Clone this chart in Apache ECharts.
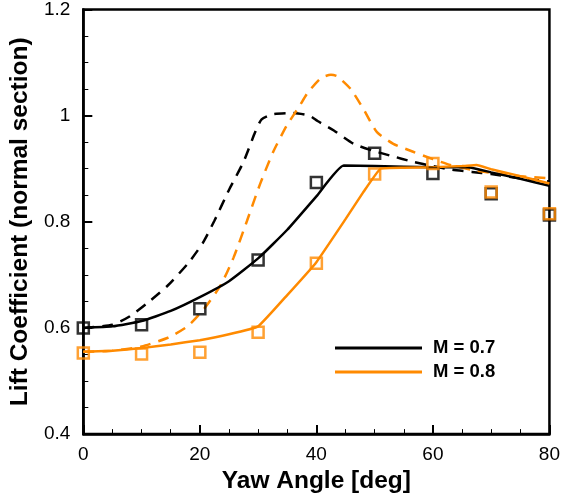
<!DOCTYPE html>
<html><head><meta charset="utf-8">
<script src="https://cdn.jsdelivr.net/npm/echarts@6/dist/echarts.min.js"></script>
<style>html,body{margin:0;padding:0;background:#fff}#c{width:563px;height:499px}</style>
</head><body><div id="c"></div>
<script>
var xTicks = [0, 20, 40, 60, 80];
var yTicks = [0.4, 0.6, 0.8, 1.0, 1.2];
var markerX = [0, 10, 20, 30, 40, 50, 60, 70, 80];
var m07Markers = [0.600, 0.606, 0.636, 0.728, 0.874, 0.929, 0.891, 0.853, 0.813];
var m08Markers = [0.553, 0.551, 0.554, 0.592, 0.722, 0.890, 0.910, 0.856, 0.815];
var m07Solid = [[0,0.600],[5,0.603],[10,0.613],[15,0.632],[20,0.658],[25,0.688],[30,0.731],[35,0.785],[40,0.848],[44.7,0.906],[50,0.905],[60,0.903],[66,0.903],[70,0.893],[75,0.881],[80,0.868]];
var m07Dash = [[0,0.600],[5,0.606],[8,0.622],[11,0.647],[14.5,0.680],[18,0.722],[20.5,0.760],[22.5,0.802],[25,0.860],[27.5,0.913],[29.5,0.969],[30.6,0.993],[32.6,1.003],[36,1.005],[38.8,1.000],[40.2,0.990],[43,0.972],[46.4,0.947],[50,0.933],[52.6,0.925],[56.6,0.913],[60,0.905],[63.3,0.898],[66.7,0.894],[70,0.890],[75,0.882],[80,0.876]];
var m08Solid = [[0,0.555],[5,0.557],[10,0.562],[15,0.569],[20,0.577],[25,0.588],[30,0.603],[35,0.662],[40,0.724],[45,0.805],[48,0.855],[51,0.900],[55,0.902],[60,0.903],[65,0.905],[67.5,0.907],[70,0.899],[75,0.886],[80,0.872]];
var m08Dash = [[0,0.555],[5,0.557],[10,0.565],[14.6,0.582],[18,0.604],[20.8,0.637],[23.6,0.681],[25.8,0.733],[28.1,0.802],[30.3,0.870],[32.6,0.932],[34.9,0.981],[37.1,1.018],[38.5,1.043],[40.8,1.071],[42.5,1.077],[43.6,1.074],[45.9,1.050],[48.1,1.012],[50.4,0.969],[53.2,0.947],[56.6,0.932],[60,0.918],[63,0.907],[66.7,0.898],[70,0.892],[75,0.886],[80,0.882]];

var ORANGE = '#ff8a00';
function pairs(xs, ys){ return xs.map(function(x,i){return [x, ys[i]];}); }
var font = 'Liberation Sans, Arial, Helvetica, sans-serif';

var chart = echarts.init(document.getElementById('c'), null, {renderer:'canvas'});
chart.setOption({
  animation: false,
  backgroundColor: '#fff',
  grid: {left: 79, right: 10, top: 9, bottom: 60, show: true, borderColor: '#000', borderWidth: 2.5, backgroundColor: 'transparent'},
  legend: {
    orient: 'vertical', left: 330, top: 333, itemWidth: 87, itemHeight: 3, itemGap: 4, icon: 'rect',
    data: ['M = 0.7', 'M = 0.8'],
    textStyle: {fontFamily: font, fontSize: 18.5, fontWeight: 'bold', color: '#000', padding: [0,0,0,6], lineHeight: 20}
  },
  xAxis: {
    type: 'value', min: 0, max: 80, interval: 20,
    name: 'Yaw Angle [deg]', nameLocation: 'middle', nameGap: 30,
    nameTextStyle: {fontFamily: font, fontSize: 24.5, fontWeight: 'bold', color: '#000'},
    axisLine: {show: true, onZero: false, lineStyle: {color: '#000', width: 2.5}},
    axisTick: {show: true, inside: true, length: 9, lineStyle: {color: '#000', width: 2}},
    minorTick: {show: true, splitNumber: 4, length: 5, lineStyle: {color: '#000', width: 1}},
    splitLine: {show: false},
    axisLabel: {fontFamily: font, fontSize: 19, color: '#000', margin: 11, formatter: function(v){return xTicks.indexOf(v) >= 0 ? String(v) : '';}}
  },
  yAxis: {
    type: 'value', min: 0.4, max: 1.2, interval: 0.2,
    name: 'Lift Coefficient (normal section)', nameLocation: 'middle', nameGap: 46,
    nameTextStyle: {fontFamily: font, fontSize: 24.5, fontWeight: 'bold', color: '#000'},
    axisLine: {show: true, onZero: false, lineStyle: {color: '#000', width: 2.5}},
    axisTick: {show: true, inside: true, length: 9, lineStyle: {color: '#000', width: 2}},
    minorTick: {show: true, splitNumber: 4, length: 5, lineStyle: {color: '#000', width: 1}},
    splitLine: {show: false},
    axisLabel: {fontFamily: font, fontSize: 19, color: '#000', margin: 13, formatter: function(v){
      var r = Math.round(v*10)/10; return yTicks.indexOf(r) >= 0 ? String(r) : ''; }}
  },
  series: [
    {name: 'M = 0.7 dash', type: 'line', data: m07Dash, showSymbol: false, smooth: 0.2, lineStyle: {color: '#000', width: 2.5, type: [11,8]}, itemStyle: {color: '#000'}, z: 2},
    {name: 'M = 0.8 dash', type: 'line', data: m08Dash, showSymbol: false, smooth: 0.2, lineStyle: {color: ORANGE, width: 2.5, type: [11,8]}, itemStyle: {color: ORANGE}, z: 2},
    {name: 'M = 0.7', type: 'line', data: m07Solid, showSymbol: false, smooth: 0.15, lineStyle: {color: '#000', width: 2.5}, itemStyle: {color: '#000'}, z: 3},
    {name: 'M = 0.8', type: 'line', data: m08Solid, showSymbol: false, smooth: 0.1, lineStyle: {color: ORANGE, width: 2.5}, itemStyle: {color: ORANGE}, z: 4},
    {name: 'M = 0.7 exp', type: 'scatter', data: pairs(markerX, m07Markers), symbol: 'rect', symbolSize: 11, itemStyle: {color: 'rgba(0,0,0,0)', borderColor: '#000', borderWidth: 2.5}, z: 5},
    {name: 'M = 0.8 exp', type: 'scatter', data: pairs(markerX, m08Markers), symbol: 'rect', symbolSize: 11, itemStyle: {color: 'rgba(0,0,0,0)', borderColor: ORANGE, borderWidth: 2.5}, z: 6}
  ]
});
</script></body></html>
